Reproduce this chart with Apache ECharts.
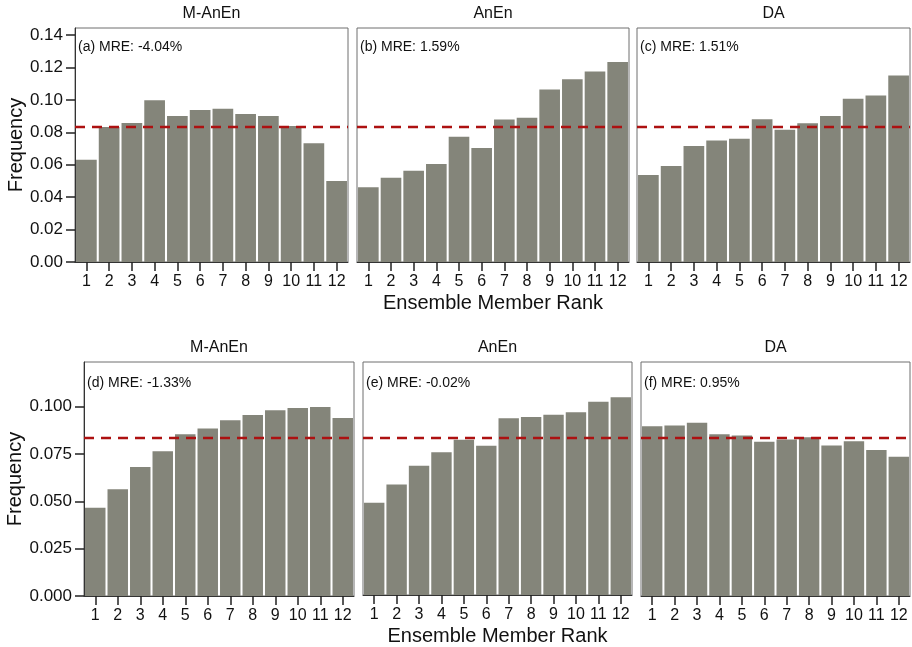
<!DOCTYPE html>
<html>
<head>
<meta charset="utf-8">
<script src="https://cdn.jsdelivr.net/npm/echarts@6/dist/echarts.min.js"></script>
<style>
  html, body { margin: 0; padding: 0; background: #fff; }
  #chart { width: 912px; height: 647px; }
</style>
</head>
<body>
<div id="chart"></div>
<script>
// Rank histogram categories (ensemble member rank)
const ranks = ['1', '2', '3', '4', '5', '6', '7', '8', '9', '10', '11', '12'];

// Frequencies per rank, top row
const mAnEnTop = [0.0631, 0.0832, 0.0857, 0.0998, 0.0900, 0.0937, 0.0945, 0.0912, 0.0900, 0.0838, 0.0732, 0.0500];
const anEnTop  = [0.0461, 0.0519, 0.0562, 0.0605, 0.0773, 0.0703, 0.0879, 0.0890, 0.1064, 0.1127, 0.1174, 0.1234];
const daTop    = [0.0537, 0.0592, 0.0715, 0.0750, 0.0760, 0.0881, 0.0816, 0.0855, 0.0900, 0.1006, 0.1027, 0.1150];

// Frequencies per rank, bottom row
const mAnEnBottom = [0.0466, 0.0564, 0.0681, 0.0765, 0.0854, 0.0885, 0.0928, 0.0956, 0.0981, 0.0993, 0.0998, 0.0940];
const anEnBottom  = [0.0489, 0.0586, 0.0686, 0.0757, 0.0824, 0.0792, 0.0938, 0.0944, 0.0956, 0.0970, 0.1025, 0.1049];
const daBottom    = [0.0896, 0.0901, 0.0915, 0.0854, 0.0848, 0.0815, 0.0827, 0.0838, 0.0795, 0.0817, 0.0771, 0.0735];

// Panel titles and MRE annotations
const panelTitles = ['M-AnEn', 'AnEn', 'DA', 'M-AnEn', 'AnEn', 'DA'];
const panelNotes = ['(a) MRE: -4.04%', '(b) MRE: 1.59%', '(c) MRE: 1.51%',
                    '(d) MRE: -1.33%', '(e) MRE: -0.02%', '(f) MRE: 0.95%'];

// Y tick values for each row
const topTicks = [0, 0.02, 0.04, 0.06, 0.08, 0.10, 0.12, 0.14];
const topTickLabels = ['0.00', '0.02', '0.04', '0.06', '0.08', '0.10', '0.12', '0.14'];
const bottomTicks = [0, 0.025, 0.05, 0.075, 0.1];
const bottomTickLabels = ['0.000', '0.025', '0.050', '0.075', '0.100'];

// Uniform reference frequency (1 / number of ranks)
const uniformLevel = 1 / 12;

const topMax = 0.1443;
const bottomMax = 0.1236;

const panelData = [mAnEnTop, anEnTop, daTop, mAnEnBottom, anEnBottom, daBottom];

// Panel boxes in pixels
const boxes = [
  { left: 75,  top: 28,  width: 273, height: 234 },
  { left: 357, top: 28,  width: 272, height: 234 },
  { left: 637, top: 28,  width: 273, height: 234 },
  { left: 84,  top: 362, width: 270, height: 234 },
  { left: 363, top: 362, width: 269, height: 234 },
  { left: 641, top: 362, width: 269, height: 234 }
];

const FONT = '"Liberation Sans", Arial, Helvetica, sans-serif';
const BAR_COLOR = '#84857a';
const FRAME = '#6f6f6f';

const grids = [], xAxes = [], yAxes = [], series = [], graphics = [];

boxes.forEach((b, i) => {
  const isTop = i < 3;
  const isLeft = i % 3 === 0;
  const isMid = i % 3 === 1;
  const ticks = isTop ? topTicks : bottomTicks;
  const tickLabels = isTop ? topTickLabels : bottomTickLabels;

  grids.push({
    left: b.left, top: b.top, width: b.width, height: b.height,
    show: true, borderColor: FRAME, borderWidth: 1, backgroundColor: '#fff'
  });

  xAxes.push({
    type: 'category', gridIndex: i, data: ranks,
    axisLine: { show: true, lineStyle: { color: '#333', width: 1 } },
    axisTick: { show: true, alignWithLabel: true, length: 9, lineStyle: { color: '#222', width: 1.5 } },
    axisLabel: { color: '#111', fontSize: 16, fontFamily: FONT, margin: 12, interval: 0 },
    name: isMid ? 'Ensemble Member Rank' : '',
    nameLocation: 'middle', nameGap: 31,
    nameTextStyle: { color: '#111', fontSize: 20, fontFamily: FONT }
  });

  yAxes.push({
    type: 'value', gridIndex: i, min: 0, max: isTop ? topMax : bottomMax,
    splitLine: { show: false },
    axisLine: { show: isLeft, lineStyle: { color: '#333', width: 1 } },
    axisTick: { show: isLeft, length: 9, customValues: ticks, lineStyle: { color: '#222', width: 1.5 } },
    axisLabel: {
      show: isLeft, customValues: ticks, color: '#111', fontSize: 17, fontFamily: FONT, margin: 12,
      formatter: v => {
        const k = ticks.findIndex(t => Math.abs(t - v) < 1e-9);
        return k >= 0 ? tickLabels[k] : '';
      }
    },
    name: isLeft ? 'Frequency' : '',
    nameLocation: 'middle', nameRotate: 90, nameGap: isTop ? 48 : 57,
    nameTextStyle: { color: '#111', fontSize: 20, fontFamily: FONT }
  });

  series.push({
    type: 'bar', xAxisIndex: i, yAxisIndex: i,
    data: panelData[i],
    barCategoryGap: '9%',
    itemStyle: { color: BAR_COLOR },
    silent: true,
    markLine: {
      silent: true, symbol: 'none', precision: 8, label: { show: false },
      lineStyle: { color: '#ad1111', type: [10, 7], width: 2.4 },
      data: [{ yAxis: uniformLevel }]
    },
    z: 2
  });

  // Panel title above the box
  graphics.push({
    type: 'text', x: b.left + b.width / 2, y: b.top - 14,
    style: { text: panelTitles[i], fill: '#111', font: '16px ' + FONT, textAlign: 'center', textVerticalAlign: 'middle' }
  });
  // MRE note in the upper-left corner of the box
  graphics.push({
    type: 'text', x: b.left + 3, y: b.top + (isTop ? 19 : 21), z: 10,
    style: { text: panelNotes[i], fill: '#111', font: '14px ' + FONT, textAlign: 'left', textVerticalAlign: 'middle' }
  });
});

const chart = echarts.init(document.getElementById('chart'), null, { renderer: 'canvas' });
chart.setOption({
  animation: false,
  backgroundColor: '#fff',
  grid: grids,
  xAxis: xAxes,
  yAxis: yAxes,
  series: series,
  graphic: graphics
});
</script>
</body>
</html>
